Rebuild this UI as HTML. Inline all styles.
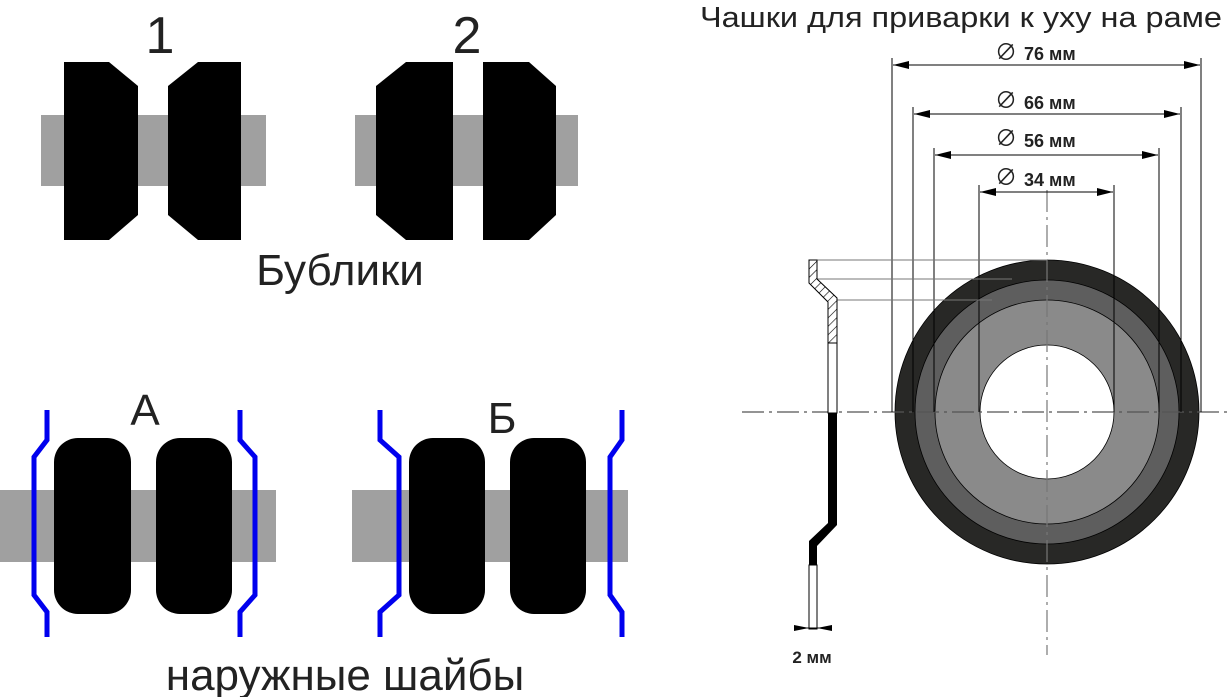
<!DOCTYPE html>
<html><head><meta charset="utf-8"><style>
html,body{margin:0;padding:0;background:#fff;}
svg{display:block;}
text{font-family:"Liberation Sans","Noto Sans CJK SC",sans-serif;fill:#222;}
</style></head><body>
<svg width="1227" height="697" viewBox="0 0 1227 697" xmlns="http://www.w3.org/2000/svg">
<defs>
<pattern id="h" width="6" height="6" patternUnits="userSpaceOnUse" patternTransform="rotate(45)">
<rect width="6" height="6" fill="#fff"/><line x1="0" y1="0" x2="0" y2="6" stroke="#000" stroke-width="1.2"/></pattern>
<marker id="a" markerWidth="16" markerHeight="8" refX="16" refY="4" orient="auto" markerUnits="userSpaceOnUse"><path d="M0,0 L16,4 L0,8z" fill="#000"/></marker>
<marker id="b" markerWidth="16" markerHeight="8" refX="0" refY="4" orient="auto" markerUnits="userSpaceOnUse"><path d="M16,0 L0,4 L16,8z" fill="#000"/></marker>
</defs>

<!-- Бублики -->
<text x="160" y="53" font-size="52" text-anchor="middle">1</text>
<text x="467" y="53" font-size="52" text-anchor="middle">2</text>
<rect x="41" y="115" width="225" height="71" fill="#a0a0a0"/>
<rect x="355" y="115" width="223" height="71" fill="#a0a0a0"/>
<polygon points="64,62 109,62 138,86 138,215 109,240 64,240" fill="#000"/>
<polygon points="198,62 241,62 241,240 198,240 168,215 168,86" fill="#000"/>
<polygon points="406,62 453,62 453,240 406,240 376,215 376,86" fill="#000"/>
<polygon points="483,62 529,62 556,86 556,215 529,240 483,240" fill="#000"/>
<text x="340" y="285" font-size="44" text-anchor="middle">Бублики</text>

<!-- наружные шайбы -->
<text x="145" y="425" font-size="44" text-anchor="middle">А</text>
<text x="502" y="433" font-size="44" text-anchor="middle">Б</text>
<rect x="0" y="490" width="276" height="72" fill="#a0a0a0"/>
<rect x="352" y="490" width="276" height="72" fill="#a0a0a0"/>
<rect x="54" y="438" width="77" height="176" rx="24" fill="#000"/>
<rect x="156" y="438" width="76" height="176" rx="24" fill="#000"/>
<rect x="409" y="438" width="76" height="176" rx="24" fill="#000"/>
<rect x="510" y="438" width="76" height="176" rx="24" fill="#000"/>
<g fill="none" stroke="#0000ee" stroke-width="5">
<polyline points="47,410 47,440 34,457 34,595 47,612 47,637"/>
<polyline points="240,410 240,440 255,457 255,595 240,612 240,637"/>
<polyline points="380,410 380,440 399,457 399,595 380,612 380,637"/>
<polyline points="622,410 622,440 610,457 610,595 622,612 622,637"/>
</g>
<text x="345" y="690" font-size="44" text-anchor="middle">наружные шайбы</text>

<!-- Title -->
<text x="700" y="27" font-size="29" textLength="522" lengthAdjust="spacingAndGlyphs">Чашки для приварки к уху на раме</text>

<!-- Rings -->
<circle cx="1047" cy="412" r="152" fill="#282826" stroke="#000" stroke-width="0.8"/>
<circle cx="1047" cy="412" r="132" fill="#5e5e5e" stroke="#000" stroke-width="0.8"/>
<circle cx="1047" cy="412" r="112" fill="#8a8a8a" stroke="#000" stroke-width="0.8"/>
<circle cx="1047" cy="412" r="67" fill="#fff" stroke="#000" stroke-width="0.8"/>

<!-- centerlines -->
<line x1="742" y1="412" x2="1227" y2="412" stroke="#555" stroke-width="1.2" stroke-dasharray="22,5,3,5"/>
<line x1="1047" y1="190" x2="1047" y2="655" stroke="#777" stroke-width="1.2" stroke-dasharray="22,5,3,5"/>

<!-- extension lines -->
<g stroke="#000" stroke-width="1" fill="none">
<line x1="892" y1="58" x2="892" y2="412"/>
<line x1="1201" y1="58" x2="1201" y2="412"/>
<line x1="913" y1="107" x2="913" y2="412"/>
<line x1="1181" y1="107" x2="1181" y2="412"/>
<line x1="934" y1="148" x2="934" y2="412"/>
<line x1="1159" y1="148" x2="1159" y2="412"/>
<line x1="979" y1="185" x2="979" y2="412"/>
<line x1="1114" y1="185" x2="1114" y2="412"/>
<line x1="893" y1="65" x2="1200" y2="65" marker-start="url(#b)" marker-end="url(#a)"/>
<line x1="914" y1="114" x2="1180" y2="114" marker-start="url(#b)" marker-end="url(#a)"/>
<line x1="935" y1="155" x2="1158" y2="155" marker-start="url(#b)" marker-end="url(#a)"/>
<line x1="980" y1="192" x2="1113" y2="192" marker-start="url(#b)" marker-end="url(#a)"/>
</g>
<g font-size="18" font-weight="bold" fill="#333">
<text x="1024" y="60">76 мм</text>
<text x="1024" y="109">66 мм</text>
<text x="1024" y="147">56 мм</text>
<text x="1024" y="186">34 мм</text>
</g>
<g font-size="22" fill="#444"><text x="995" y="60">∅</text><text x="995" y="108">∅</text><text x="995" y="146">∅</text><text x="995" y="185">∅</text></g>

<!-- horizontal projection lines -->
<g stroke="#777" stroke-width="1">
<line x1="809" y1="260" x2="1047" y2="260"/>
<line x1="817" y1="279" x2="1012" y2="279"/>
<line x1="837" y1="300" x2="992" y2="300"/>
</g>

<!-- bracket profile -->
<polygon points="809,260 817,260 817,279 837,298 837,343 828,343 828,302 809,283" fill="url(#h)" stroke="#000" stroke-width="1"/>
<rect x="828" y="343" width="9" height="70" fill="#fff" stroke="#000" stroke-width="1"/>
<polygon points="828,413 837,413 837,525 817,546 817,565 809,565 809,541 828,523" fill="#000"/>
<rect x="809" y="565" width="8" height="64" fill="#fff" stroke="#000" stroke-width="1"/>
<polygon points="794,625 809,628 794,631" fill="#000"/>
<polygon points="832,625 817,628 832,631" fill="#000"/>
<line x1="794" y1="628" x2="832" y2="628" stroke="#000" stroke-width="1"/>
<text x="812" y="663" font-size="17" font-weight="bold" text-anchor="middle">2 мм</text>
</svg>
</body></html>
